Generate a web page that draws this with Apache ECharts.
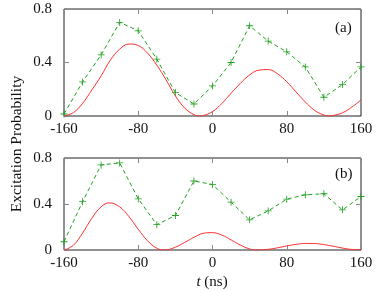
<!DOCTYPE html>
<html><head><meta charset="utf-8">
<script src="https://cdn.jsdelivr.net/npm/echarts@6/dist/echarts.min.js"></script>
<style>html,body{margin:0;padding:0;background:#fff}#c{width:390px;height:291px}</style>
</head><body><div id="c"></div>
<script>
// x ticks
const xTicks = [-160, -80, 0, 80, 160];
const yTicks = [0, 0.4, 0.8];
// Panel (a): simulated markers (green, dashed)
const aMarkT = [-160,-140,-120,-100,-80,-60,-40,-20,0,20,40,60,80,100,120,140,160];
const aMarkV = [0.015,0.255,0.457,0.70,0.637,0.425,0.175,0.09,0.225,0.40,0.675,0.56,0.48,0.367,0.14,0.235,0.367];
// Panel (a): theory curve (red)
const aCurveT = [-160,-150,-140,-130,-120,-110,-100,-90,-80,-70,-60,-50,-40,-30,-20,-14,-10,0,10,20,30,40,50,60,70,80,90,100,110,120,126,130,140,150,160];
const aCurveV = [0,0.025,0.094,0.195,0.30,0.418,0.50,0.538,0.527,0.47,0.38,0.27,0.15,0.06,0.01,0,0.003,0.033,0.093,0.17,0.244,0.307,0.343,0.347,0.316,0.256,0.18,0.105,0.042,0.007,0,0.004,0.024,0.066,0.12];
// Panel (b): simulated markers
const bMarkT = [-160,-140,-120,-100,-80,-60,-40,-20,0,20,40,60,80,100,120,140,160];
const bMarkV = [0.072,0.42,0.74,0.757,0.445,0.22,0.30,0.60,0.57,0.416,0.262,0.34,0.442,0.48,0.489,0.349,0.465];
// Panel (b): theory curve
const bCurveT = [-160,-150,-140,-130,-120,-111,-100,-90,-80,-70,-60,-53,-50,-40,-30,-20,-10,0,10,20,30,40,48,60,70,80,90,100,110,120,130,140,150,160];
const bCurveV = [0,0.04,0.147,0.276,0.376,0.41,0.375,0.29,0.18,0.08,0.015,0,0.001,0.024,0.066,0.11,0.145,0.151,0.13,0.088,0.043,0.009,0,0.006,0.019,0.035,0.049,0.057,0.056,0.047,0.033,0.017,0.005,0.003];
const panelLabels = ['(a)', '(b)'];

const FONT = 'Liberation Serif';
const GREEN = '#22a022';
const RED = '#ff3030';
const plus = 'path://M4.4,0h1.2v10h-1.2z M0,4.4h10v1.2h-10z';

const grids = [
  {left: 64, top: 9, width: 297, height: 107, show: true, borderColor: '#222', borderWidth: 1},
  {left: 64, top: 158, width: 297, height: 92, show: true, borderColor: '#222', borderWidth: 1}
];
const xAxes = [], yAxes = [];
[0,1].forEach(g => {
  const base = {type: 'value', min: xTicks[0], max: xTicks[xTicks.length-1], interval: 80, gridIndex: g,
    splitLine: {show: false}, axisLine: {show: false, onZero: false},
    axisTick: {show: true, inside: true, length: 5, lineStyle: {color: '#888', width: 1}}};
  xAxes.push(Object.assign({}, base, {position: 'bottom',
    axisLabel: {show: true, margin: 6, fontFamily: FONT, fontSize: 15, color: '#111'}}));
  xAxes.push(Object.assign({}, base, {position: 'top', axisLabel: {show: false}}));
  const yb = {type: 'value', min: yTicks[0], max: yTicks[yTicks.length-1], interval: 0.4, gridIndex: g,
    splitLine: {show: false}, axisLine: {show: false, onZero: false},
    axisTick: {show: true, inside: true, length: 5, lineStyle: {color: '#888', width: 1}}};
  yAxes.push(Object.assign({}, yb, {position: 'left',
    axisLabel: {show: true, margin: 12, fontFamily: FONT, fontSize: 15, color: '#111',
      formatter: v => (Math.round(v*10)/10).toString()}}));
  yAxes.push(Object.assign({}, yb, {position: 'right', axisLabel: {show: false}}));
});

function zip(t, v) { return t.map((x, i) => [x, v[i]]); }
const series = [];
[[aCurveT, aCurveV, aMarkT, aMarkV], [bCurveT, bCurveV, bMarkT, bMarkV]].forEach((d, g) => {
  series.push({type: 'line', xAxisIndex: 2*g, yAxisIndex: 2*g, data: zip(d[0], d[1]), smooth: 0.4,
    showSymbol: false, lineStyle: {color: RED, width: 1}, z: 2, silent: true});
  series.push({type: 'line', xAxisIndex: 2*g, yAxisIndex: 2*g, data: zip(d[2], d[3]),
    symbol: plus, symbolSize: 7, showSymbol: true, itemStyle: {color: GREEN},
    lineStyle: {color: GREEN, width: 1, type: [4, 3]}, z: 3, silent: true});
});

const chart = echarts.init(document.getElementById('c'), null, {renderer: 'canvas'});
chart.setOption({
  animation: false,
  backgroundColor: '#fff',
  grid: grids, xAxis: xAxes, yAxis: yAxes, series: series,
  graphic: [
    {type: 'text', left: 335, top: 21, style: {text: panelLabels[0], font: '15px "' + FONT + '"', fill: '#111'}},
    {type: 'text', left: 335, top: 167, style: {text: panelLabels[1], font: '15px "' + FONT + '"', fill: '#111'}},
    {type: 'text', x: 17, y: 144, rotation: Math.PI/2, style: {text: 'Excitation Probability',
      font: '15.5px "' + FONT + '"', fill: '#111', align: 'center', verticalAlign: 'middle'}},
    {type: 'text', x: 212, y: 282, style: {text: '{i|t} (ns)', align: 'center', verticalAlign: 'middle',
      rich: {i: {fontStyle: 'italic', fontFamily: FONT, fontSize: 15, fill: '#111'}},
      font: '15px "' + FONT + '"', fill: '#111'}}
  ]
});
</script></body></html>
